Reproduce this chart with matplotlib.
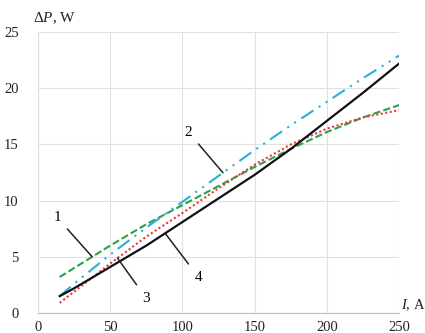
import numpy as np
import matplotlib
matplotlib.use("Agg")
import matplotlib.pyplot as plt

plt.rcParams["font.family"] = ["Liberation Serif", "DejaVu Serif"]
plt.rcParams["mathtext.fontset"] = "custom"
plt.rcParams["mathtext.rm"] = "Liberation Serif"
plt.rcParams["mathtext.it"] = "Liberation Serif:italic"

current = [15, 25, 50, 75, 100, 125, 150, 175, 200, 225, 250]
loss_1 = [3.2, 4.0, 6.0, 7.9, 9.6, 11.3, 13.0, 14.6, 16.1, 17.4, 18.5]
loss_2 = [1.5, 2.6, 5.2, 7.6, 9.9, 12.2, 14.5, 16.7, 18.8, 20.9, 22.9]
loss_3 = [0.9, 1.9, 4.4, 6.8, 8.9, 11.1, 13.2, 15.0, 16.4, 17.4, 18.05]
loss_4 = [1.5, 2.2, 4.1, 6.0, 8.1, 10.2, 12.3, 14.6, 17.1, 19.6, 22.2]

x_ticks = [0, 50, 100, 150, 200, 250]
y_ticks = [0, 5, 10, 15, 20, 25]

fig = plt.figure(figsize=(4.25, 3.33), dpi=100)
ax = fig.add_axes([0.0894, 0.060, 0.850, 0.844])

ax.plot(current, loss_1, color="#2ca048", linewidth=1.5, linestyle=(0, (3.5, 1.5)))
ax.plot(current, loss_2, color="#2ab0d6", linewidth=1.5, linestyle=(0, (7, 3, 1, 3, 1, 3)))
ax.plot(current, loss_3, color="#e8383a", linewidth=1.5, linestyle=(0, (1, 1.2)))
ax.plot(current, loss_4, color="#111111", linewidth=1.6)

# curve labels with leader lines
labels = [
    ("1", loss_1, 37.5, (13.2, 8.5)),
    ("2", loss_2, 128.0, (104.0, 16.1)),
    ("3", loss_3, 55.0, (75.0, 1.3)),
    ("4", loss_4, 88.0, (111.0, 3.2)),
]
for text, series, at, pos in labels:
    target = (at, float(np.interp(at, current, series)))
    ax.annotate(text, xy=target, xytext=pos, fontsize=11, ha="center", va="center",
                arrowprops=dict(arrowstyle="-", color="#222222", linewidth=1.1,
                                shrinkA=4, shrinkB=0))

ax.set_xlim(0, 250)
ax.set_ylim(0, 25)
ax.set_xticks(x_ticks)
ax.set_yticks(y_ticks)
ax.grid(True, color="#e0e0e0", linewidth=0.8)
ax.set_axisbelow(True)
ax.tick_params(axis="both", length=0, labelsize=10.5, colors="#222222")
ax.tick_params(axis="y", pad=14)
ax.tick_params(axis="x", pad=5.5)
for side in ["top", "right"]:
    ax.spines[side].set_visible(False)
ax.spines["left"].set_color("#e0e0e0")
ax.spines["bottom"].set_color("#bfbfbf")

fig.text(33 / 425, 1 - 18 / 333, "Δ$P$, W", fontsize=11, ha="left", va="center", color="#222222")
fig.text(401 / 425, 1 - 305 / 333, "$I$, A", fontsize=10.5, ha="left", va="center", color="#222222")

fig.savefig("out.png", dpi=100)
